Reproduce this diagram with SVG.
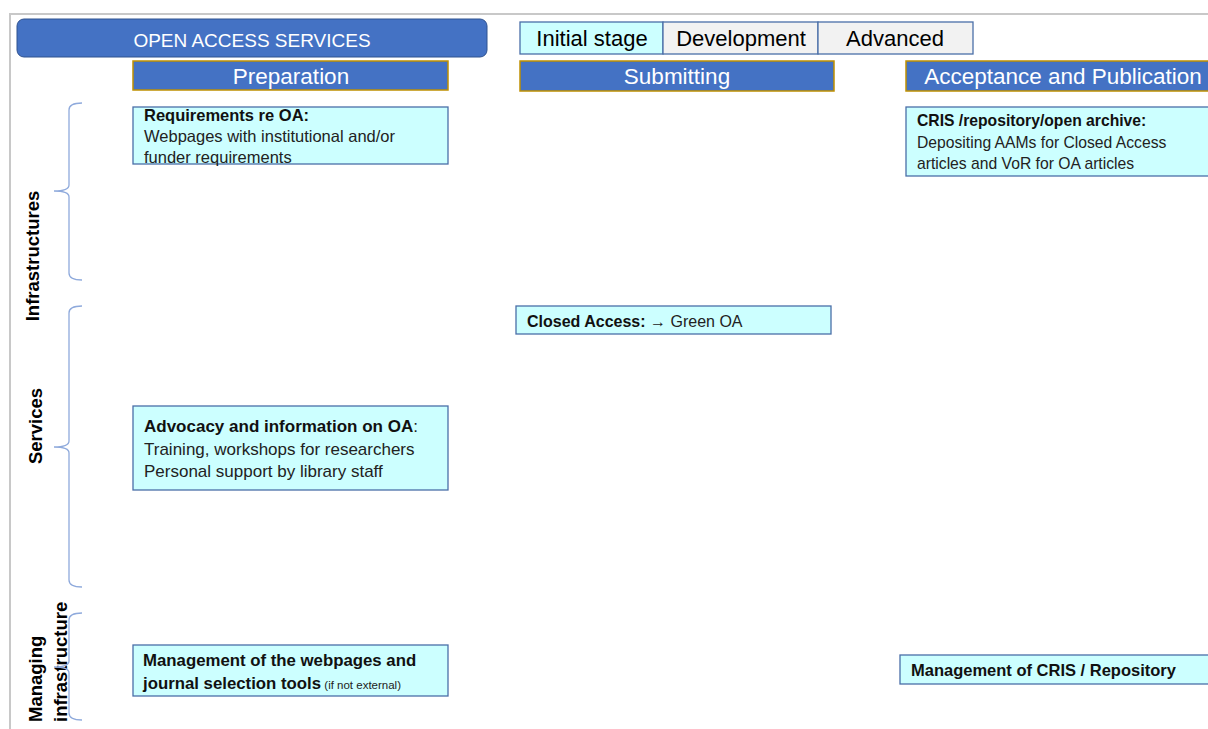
<svg xmlns="http://www.w3.org/2000/svg" width="1208" height="729" viewBox="0 0 1208 729">
<style>
text{font-family:"Liberation Sans",Arial,sans-serif}
.hdr{fill:#4472C4;stroke:#BF9000;stroke-width:1.5}
.hdrt{fill:#fff;font-size:22.5px;text-anchor:middle}
.box{fill:#CCFFFF;stroke:#4A6FA8;stroke-width:1.3}
.leg{stroke:#4A6FA8;stroke-width:1.3}
.legt{fill:#000;font-size:22px;text-anchor:middle}
.b{fill:#111;font-weight:bold}
.n{fill:#222}
.brace{fill:none;stroke:#8FAADC;stroke-width:1.3}
.side{font-size:18.5px;font-weight:bold;fill:#000}
</style>
<rect width="1208" height="729" fill="#fff"/>
<path d="M10,729 V14 H1208" fill="none" stroke="#C8C8C8" stroke-width="2"/>

<g id="title">
<rect x="17" y="19" width="470" height="38" rx="7" fill="#4472C4" stroke="#2F528F" stroke-width="1"/>
<text x="252" y="46.5" fill="#fff" font-size="19" text-anchor="middle">OPEN ACCESS SERVICES</text>
</g>

<g id="legend">
<rect class="leg" x="520" y="22" width="143" height="32" fill="#CCFFFF"/>
<rect class="leg" x="663" y="22" width="155" height="32" fill="#F2F2F2"/>
<rect class="leg" x="818" y="22" width="155" height="32" fill="#F2F2F2"/>
<text class="legt" x="592" y="46">Initial stage</text>
<text class="legt" x="741" y="46">Development</text>
<text class="legt" x="895" y="46">Advanced</text>
</g>

<g id="stage-preparation">
<rect class="hdr" x="133" y="61" width="315" height="29"/>
<text class="hdrt" x="291" y="84">Preparation</text>
</g>
<g id="stage-submitting">
<rect class="hdr" x="520" y="61" width="314" height="30"/>
<text class="hdrt" x="677" y="84">Submitting</text>
</g>
<g id="stage-acceptance">
<rect class="hdr" x="906" y="61" width="310" height="30"/>
<text class="hdrt" x="1063" y="84">Acceptance and Publication</text>
</g>

<g id="label-infrastructures">
<text class="side" transform="translate(39,256) rotate(-90)" text-anchor="middle">Infrastructures</text>
</g>
<g id="label-services">
<text class="side" transform="translate(42,426) rotate(-90)" text-anchor="middle">Services</text>
</g>
<g id="label-managing">
<text class="side" transform="translate(42,722) rotate(-90)">Managing</text>
<text class="side" transform="translate(67,722) rotate(-90)">infrastructure</text>
</g>

<g id="connectors">
<path class="brace" d="M82,103 Q69,103 69,110 V185 Q69,191 54,191 Q69,191 69,197 V273 Q69,280 82,280"/>
<path class="brace" d="M82,306 Q69,306 69,313 V441 Q69,447 54,447 Q69,447 69,453 V580 Q69,587 82,587"/>
<path class="brace" d="M82,613 Q69,613 69,620 V661 Q69,667 54,667 Q69,667 69,673 V713 Q69,720 82,720"/>
</g>

<g id="node-requirements" font-size="16.5">
<rect class="box" x="133" y="107" width="315" height="57"/>
<text class="b" x="144" y="121">Requirements re OA:</text>
<text class="n" x="144" y="142">Webpages with institutional and/or</text>
<text class="n" x="144" y="163">funder requirements</text>
</g>

<g id="node-cris" font-size="15.7">
<rect class="box" x="906" y="107" width="310" height="69"/>
<text class="b" x="917" y="126">CRIS /repository/open archive:</text>
<text class="n" x="917" y="148">Depositing AAMs for Closed Access</text>
<text class="n" x="917" y="169">articles and VoR for OA articles</text>
</g>

<g id="node-closed-access" font-size="16">
<rect class="box" x="516" y="306" width="315" height="28"/>
<text x="527" y="327"><tspan class="b">Closed Access:</tspan><tspan class="n">  → Green OA</tspan></text>
</g>

<g id="node-advocacy" font-size="17">
<rect class="box" x="133" y="406" width="315" height="84"/>
<text x="144" y="432"><tspan class="b">Advocacy and information on OA</tspan><tspan class="n">:</tspan></text>
<text class="n" x="144" y="455">Training, workshops for researchers</text>
<text class="n" x="144" y="477">Personal support by library staff</text>
</g>

<g id="node-management-web" font-size="16.8">
<rect class="box" x="133" y="645" width="315" height="51"/>
<text class="b" x="143" y="666"> Management of the webpages and</text>
<text x="143" y="689"><tspan class="b">journal selection tools</tspan><tspan font-size="11.5" fill="#222"> (if not external)</tspan></text>
</g>

<g id="node-management-cris" font-size="16.5">
<rect class="box" x="900" y="655" width="316" height="29"/>
<text class="b" x="911" y="676">Management of CRIS / Repository</text>
</g>
</svg>
